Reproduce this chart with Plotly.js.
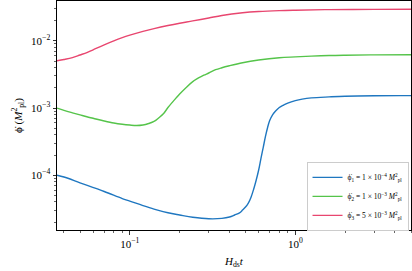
<!DOCTYPE html>
<html>
<head>
<meta charset="utf-8">
<script src="https://cdn.plot.ly/plotly-3.0.1.min.js"></script>
<style>html,body{margin:0;padding:0;background:#fff;}#chart{width:412px;height:271px;}</style>
</head>
<body>
<div id="chart"></div>
<script>
// Data
const t1 = [0.0363, 0.04, 0.05, 0.07, 0.09, 0.1, 0.12, 0.14, 0.17, 0.2, 0.24, 0.3, 0.36, 0.4, 0.43, 0.46, 0.48, 0.5, 0.52, 0.54, 0.56, 0.58, 0.6, 0.62, 0.64, 0.66, 0.68, 0.7, 0.73, 0.76, 0.8, 0.85, 0.9, 1.0, 1.1, 1.25, 1.6, 2.0, 3, 5];
const phi1 = [1.0e-4, 9.40e-5, 7.72e-5, 5.73e-5, 4.49e-5, 4.12e-5, 3.53e-5, 3.13e-5, 2.76e-5, 2.56e-5, 2.37e-5, 2.25e-5, 2.28e-5, 2.39e-5, 2.56e-5, 2.75e-5, 3.03e-5, 3.36e-5, 3.85e-5, 4.72e-5, 6.20e-5, 8.43e-5, 1.186e-4, 1.786e-4, 2.60e-4, 3.78e-4, 5.14e-4, 6.53e-4, 8.01e-4, 9.03e-4, 1.017e-3, 1.108e-3, 1.186e-3, 1.291e-3, 1.359e-3, 1.416e-3, 1.465e-3, 1.500e-3, 1.526e-3, 1.53e-3];
const t2 = [0.0363, 0.04, 0.045, 0.05, 0.055, 0.06, 0.07, 0.08, 0.09, 0.1, 0.11, 0.12, 0.13, 0.14, 0.15, 0.16, 0.17, 0.18, 0.19, 0.2, 0.22, 0.24, 0.26, 0.28, 0.3, 0.33, 0.36, 0.4, 0.48, 0.6, 0.8, 1.0, 1.25, 1.6, 2.0, 3, 5];
const phi2 = [1.0e-3, 9.24e-4, 8.49e-4, 7.90e-4, 7.41e-4, 7.04e-4, 6.42e-4, 5.99e-4, 5.73e-4, 5.58e-4, 5.50e-4, 5.60e-4, 5.89e-4, 6.31e-4, 7.18e-4, 8.29e-4, 1.017e-3, 1.206e-3, 1.406e-3, 1.618e-3, 2.047e-3, 2.470e-3, 2.802e-3, 3.083e-3, 3.322e-3, 3.719e-3, 3.981e-3, 4.262e-3, 4.722e-3, 5.177e-3, 5.60e-3, 5.77e-3, 5.93e-3, 6.06e-3, 6.12e-3, 6.18e-3, 6.20e-3];
const t3 = [0.0363, 0.04, 0.045, 0.05, 0.055, 0.06, 0.07, 0.08, 0.09, 0.1, 0.12, 0.14, 0.17, 0.2, 0.24, 0.3, 0.36, 0.48, 0.6, 0.8, 1.0, 1.6, 3, 5];
const phi3 = [5.05e-3, 5.28e-3, 5.64e-3, 6.16e-3, 6.68e-3, 7.36e-3, 8.72e-3, 1.0e-2, 1.115e-2, 1.214e-2, 1.383e-2, 1.521e-2, 1.691e-2, 1.829e-2, 1.979e-2, 2.191e-2, 2.387e-2, 2.617e-2, 2.735e-2, 2.821e-2, 2.860e-2, 2.919e-2, 2.939e-2, 2.949e-2];
const seriesNames = [
  'ϕ̇<sub>1</sub> = 1 × 10<sup>−4</sup> <i>M</i><sup>2</sup><sub>pl</sub>',
  'ϕ̇<sub>2</sub> = 1 × 10<sup>−3</sup> <i>M</i><sup>2</sup><sub>pl</sub>',
  'ϕ̇<sub>3</sub> = 5 × 10<sup>−3</sup> <i>M</i><sup>2</sup><sub>pl</sub>'
];
const colors = ['#1f77c0', '#55c44a', '#e8466f'];
const xTickVals = [0.1, 1];
const xTickText = ['10<sup>−1</sup>', '10<sup>0</sup>'];
const yTickVals = [1e-4, 1e-3, 1e-2];
const yTickText = ['10<sup>−4</sup>', '10<sup>−3</sup>', '10<sup>−2</sup>'];

function minorVals(lo, hi) {
  const out = [];
  for (let e = lo; e <= hi; e++) {
    for (let m = 2; m <= 9; m++) out.push(m * Math.pow(10, e));
  }
  return out;
}

const xs = [t1, t2, t3];
const ys = [phi1, phi2, phi3];
const traces = xs.map((x, i) => ({
  x: x, y: ys[i], type: 'scatter', mode: 'lines',
  name: seriesNames[i],
  line: {color: colors[i], width: 1.4, shape: 'spline', smoothing: 1}
}));

const fontFam = 'Liberation Serif, DejaVu Serif, serif';
const layout = {
  width: 412, height: 271,
  margin: {l: 57, r: 1, t: 1, b: 41},
  paper_bgcolor: '#fff', plot_bgcolor: '#fff',
  font: {family: fontFam, color: '#000', size: 11},
  showlegend: true,
  legend: {
    x: 0.993, y: -0.004, xanchor: 'right', yanchor: 'bottom',
    bgcolor: 'rgba(255,255,255,0.9)', bordercolor: '#cccccc', borderwidth: 1,
    font: {family: fontFam, size: 7.5, color: '#000'},
    itemwidth: 30, tracegroupgap: 0
  },
  xaxis: {
    type: 'log', range: [Math.log10(0.0363), Math.log10(5)],
    showgrid: false, zeroline: false,
    showline: true, mirror: true, linecolor: '#000', linewidth: 1,
    ticks: 'outside', ticklen: 3.5, tickwidth: 0.8, tickcolor: '#000',
    tickmode: 'array', tickvals: xTickVals, ticktext: xTickText,
    tickfont: {family: fontFam, size: 11},
    minor: {ticks: 'outside', ticklen: 2, tickwidth: 0.6, tickcolor: '#000', tickmode: 'array', tickvals: minorVals(-2, 0), showgrid: false},
    title: {text: '<i>H</i><sub>ds</sub><i>t</i>', font: {family: fontFam, size: 11}, standoff: 8}
  },
  yaxis: {
    type: 'log', range: [-4.815, -1.407],
    showgrid: false, zeroline: false,
    showline: true, mirror: true, linecolor: '#000', linewidth: 1,
    ticks: 'outside', ticklen: 3.5, tickwidth: 0.8, tickcolor: '#000',
    tickmode: 'array', tickvals: yTickVals, ticktext: yTickText,
    tickfont: {family: fontFam, size: 11},
    minor: {ticks: 'outside', ticklen: 2, tickwidth: 0.6, tickcolor: '#000', tickmode: 'array', tickvals: minorVals(-5, -2), showgrid: false},
    title: {text: 'ϕ̇ (<i>M</i><sup>2</sup><sub>pl</sub>)', font: {family: fontFam, size: 11}, standoff: 6}
  }
};

Plotly.newPlot('chart', traces, layout, {staticPlot: true, displayModeBar: false});
</script>
</body>
</html>
